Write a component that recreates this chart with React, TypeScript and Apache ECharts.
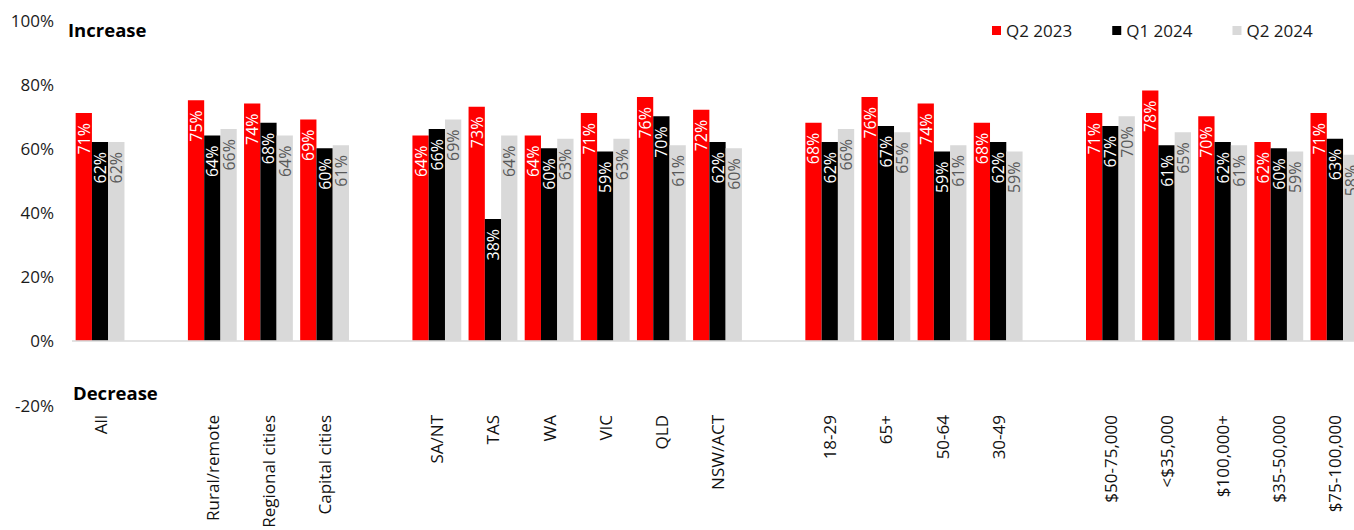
import React, { useEffect, useRef } from "react";
import * as echarts from "echarts";

// Category slots; whitespace-only entries are spacer slots between groups.
const categories = [
  "All", " ",
  "Rural/remote", "Regional cities", "Capital cities", "  ",
  "SA/NT", "TAS", "WA", "VIC", "QLD", "NSW/ACT", "   ",
  "18-29", "65+", "50-64", "30-49", "    ",
  "$50-75,000", "<$35,000", "$100,000+", "$35-50,000", "$75-100,000",
];

const q2_2023 = [71, null, 75, 74, 69, null, 64, 73, 64, 71, 76, 72, null, 68, 76, 74, 68, null, 71, 78, 70, 62, 71];
const q1_2024 = [62, null, 64, 68, 60, null, 66, 38, 60, 59, 70, 62, null, 62, 67, 59, 62, null, 67, 61, 62, 60, 63];
const q2_2024 = [62, null, 66, 64, 61, null, 69, 64, 63, 63, 61, 60, null, 66, 65, 61, 59, null, 70, 65, 61, 59, 58];

const yTicks = { min: -20, max: 100, interval: 20 };

const FONT = "'Open Sans', 'Noto Sans', sans-serif";

function barLabel(color: string) {
  return {
    show: true,
    position: "insideTop" as const,
    distance: 10,
    rotate: 90,
    align: "right" as const,
    verticalAlign: "middle" as const,
    color,
    fontFamily: FONT,
    fontSize: 16,
    formatter: "{c}%",
  };
}

export default function App() {
  const ref = useRef<HTMLDivElement>(null);

  useEffect(() => {
    if (!ref.current) return;
    const chart = echarts.init(ref.current, null, { renderer: "svg" });
    chart.setOption({
      animation: false,
      backgroundColor: "#ffffff",
      textStyle: { fontFamily: FONT },
      legend: {
        left: 987,
        top: 17,
        icon: "rect",
        itemWidth: 9,
        itemHeight: 9,
        itemGap: 40,
        textStyle: { fontFamily: FONT, fontSize: 17, color: "#1a1a1a" },
        data: ["Q2 2023", "Q1 2024", "Q2 2024"],
      },
      grid: {
        left: 72,
        right: -9,
        top: 20,
        bottom: 125,
        containLabel: false,
        outerBoundsMode: "none",
      },
      xAxis: {
        type: "category",
        data: categories,
        axisLine: { show: false },
        axisTick: { show: false },
        axisLabel: {
          interval: 0,
          rotate: 90,
          margin: 10,
          fontFamily: FONT,
          fontSize: 17,
          color: "#111111",
        },
      },
      yAxis: {
        type: "value",
        min: yTicks.min,
        max: yTicks.max,
        interval: yTicks.interval,
        splitLine: { show: false },
        axisLine: { show: false },
        axisTick: { show: false },
        axisLabel: {
          formatter: "{value}%",
          margin: 18,
          fontFamily: FONT,
          fontSize: 17,
          color: "#1a1a1a",
        },
      },
      graphic: [
        {
          type: "text",
          left: 68,
          top: 20,
          style: { text: "Increase", fontFamily: FONT, fontSize: 18.5, fontWeight: "bold", fill: "#000000" },
        },
        {
          type: "text",
          left: 73,
          top: 383,
          style: { text: "Decrease", fontFamily: FONT, fontSize: 18.5, fontWeight: "bold", fill: "#000000" },
        },
      ],
      series: [
        {
          name: "Q2 2023",
          type: "bar",
          data: q2_2023,
          barGap: "0%",
          barCategoryGap: "13%",
          itemStyle: { color: "#ff0000" },
          label: barLabel("#ffffff"),
          markLine: {
            silent: true,
            symbol: "none",
            label: { show: false },
            lineStyle: { color: "#d9d9d9", width: 1.5, type: "solid" },
            data: [{ yAxis: 0 }],
          },
        },
        {
          name: "Q1 2024",
          type: "bar",
          data: q1_2024,
          barGap: "0%",
          barCategoryGap: "13%",
          itemStyle: { color: "#000000" },
          label: barLabel("#ffffff"),
        },
        {
          name: "Q2 2024",
          type: "bar",
          data: q2_2024,
          barGap: "0%",
          barCategoryGap: "13%",
          itemStyle: { color: "#d9d9d9" },
          label: barLabel("#595959"),
        },
      ],
    });
    return () => chart.dispose();
  }, []);

  return (
    <div
      ref={ref}
      style={{ position: "fixed", left: 0, top: 0, width: 1354, height: 530 }}
    />
  );
}
